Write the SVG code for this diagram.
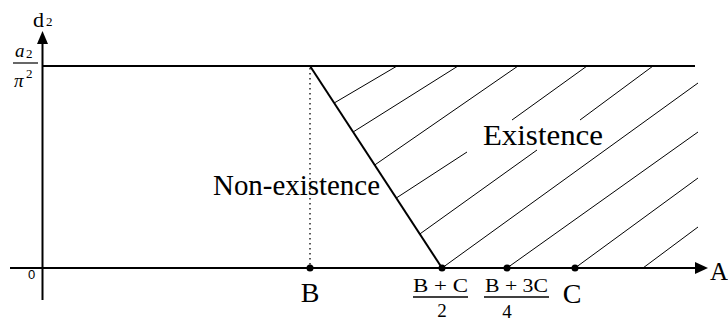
<svg xmlns="http://www.w3.org/2000/svg" width="728" height="322" viewBox="0 0 728 322">
<style>
  .ax { stroke: #000; stroke-width: 2; fill: none; }
  .h { stroke: #000; stroke-width: 1; fill: none; }
  .t { font-family: "Liberation Serif", "DejaVu Serif", serif; fill: #000; }
  .dot { fill: #000; }
</style>
<rect width="728" height="322" fill="#fff"/>
<g id="axes">
  <line class="ax" x1="42.5" y1="43" x2="42.5" y2="300"/>
  <polygon points="42.5,31 37,44 48,44" fill="#000"/>
  <line class="ax" x1="10" y1="268" x2="696" y2="268"/>
  <polygon points="708,268 695,262 695,274" fill="#000"/>
  <text class="t" x="33" y="27" font-size="22">d</text>
  <text class="t" x="46" y="26" font-size="13">2</text>
  <text class="t" x="710" y="280" font-size="25">A</text>
  <text x="31.5" y="279" font-size="13" text-anchor="middle" font-family="Liberation Sans, Arial, sans-serif">0</text>
  <g id="ylabel">
    <text class="t" x="15" y="57" font-size="19" font-style="italic">a</text>
    <text class="t" x="26" y="58" font-size="13">2</text>
    <line x1="13" y1="63" x2="38" y2="63" stroke="#000" stroke-width="1.2"/>
    <text class="t" x="14" y="87" font-size="19" font-style="italic">π</text>
    <text class="t" x="26" y="78" font-size="13">2</text>
  </g>
</g>
<g id="connectors">
  <line class="ax" x1="42" y1="66" x2="695" y2="66"/>
  <line x1="310" y1="68" x2="310" y2="266" stroke="#000" stroke-width="1.3" stroke-dasharray="1.5 3.5"/>
  <line class="ax" x1="310" y1="66" x2="442" y2="268"/>
</g>
<g id="hatching">
  <line class="h" x1="334.2" y1="103" x2="397" y2="66"/>
  <line class="h" x1="353.1" y1="132" x2="458" y2="66"/>
  <line class="h" x1="374.7" y1="165" x2="518" y2="66"/>
  <line class="h" x1="396.3" y1="198" x2="467" y2="152"/>
  <line class="h" x1="512" y1="120" x2="587" y2="66"/>
  <line class="h" x1="419.8" y1="234" x2="537" y2="150"/>
  <line class="h" x1="580" y1="120" x2="653" y2="66"/>
  <line class="h" x1="442" y1="268" x2="698" y2="83"/>
  <line class="h" x1="507" y1="268" x2="698" y2="132"/>
  <line class="h" x1="575" y1="268" x2="698" y2="178"/>
  <line class="h" x1="643" y1="268" x2="698" y2="227"/>
</g>
<g id="points">
  <circle class="dot" cx="310" cy="268" r="3.5"/>
  <circle class="dot" cx="442" cy="268" r="3.5"/>
  <circle class="dot" cx="507" cy="268" r="3.5"/>
  <circle class="dot" cx="575" cy="268" r="3.5"/>
</g>
<g id="region-labels">
  <text class="t" x="213" y="195" font-size="30" textLength="167" lengthAdjust="spacingAndGlyphs">Non-existence</text>
  <text class="t" x="483" y="145" font-size="30" textLength="120" lengthAdjust="spacingAndGlyphs">Existence</text>
</g>
<g id="label-B">
  <text class="t" x="310" y="302" font-size="28" text-anchor="middle">B</text>
</g>
<g id="label-BC2">
  <text class="t" x="413" y="292" font-size="18" textLength="55" lengthAdjust="spacingAndGlyphs">B + C</text>
  <line x1="413" y1="297" x2="468" y2="297" stroke="#000" stroke-width="1.4"/>
  <text class="t" x="442" y="317" font-size="19" text-anchor="middle">2</text>
</g>
<g id="label-B3C4">
  <text class="t" x="485" y="292" font-size="18" textLength="63" lengthAdjust="spacingAndGlyphs">B + 3C</text>
  <line x1="484" y1="297" x2="549" y2="297" stroke="#000" stroke-width="1.4"/>
  <text class="t" x="507" y="318" font-size="19" text-anchor="middle">4</text>
</g>
<g id="label-C">
  <text class="t" x="572" y="303" font-size="28" text-anchor="middle">C</text>
</g>
</svg>
